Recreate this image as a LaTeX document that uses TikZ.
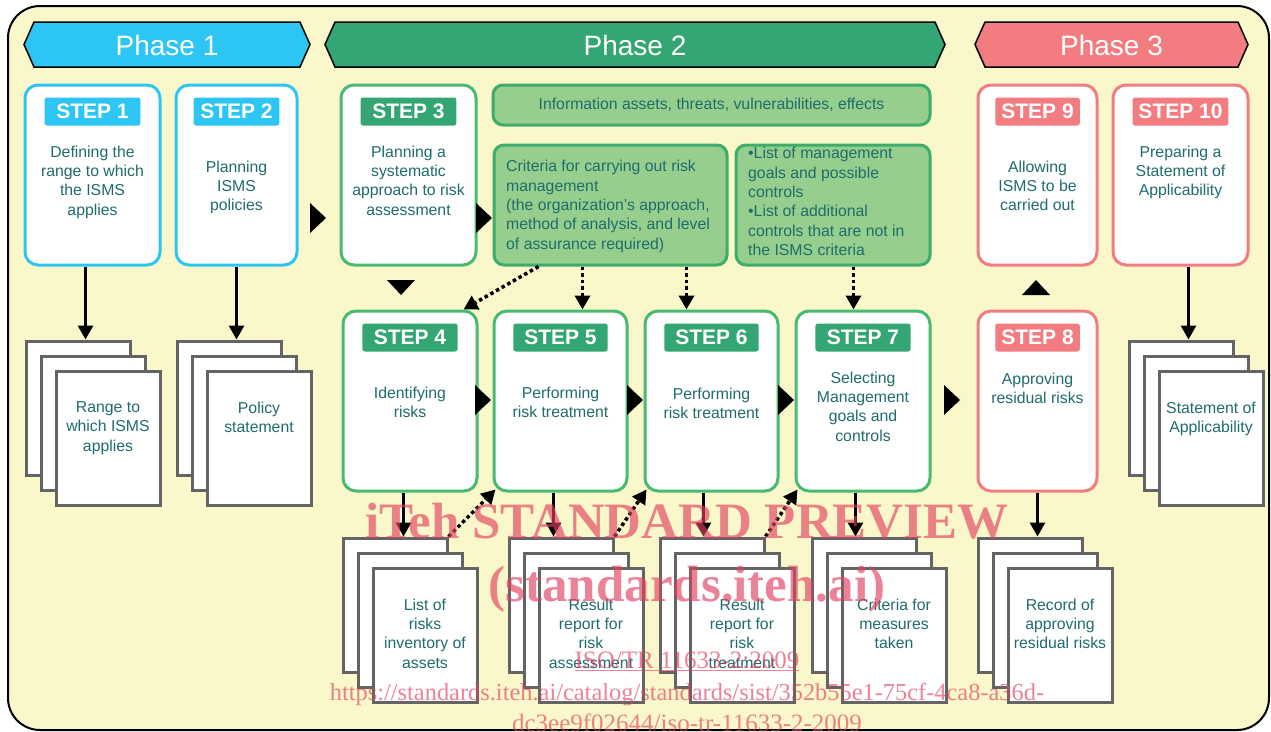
\documentclass[tikz,border=0pt]{standalone}
\usepackage{fontspec}
\setmainfont{Liberation Sans}
\newfontfamily\wmfont{Liberation Serif}
\usetikzlibrary{arrows.meta,calc}

\definecolor{bgyellow}{RGB}{250,248,202}
\definecolor{phcyan}{RGB}{45,197,243}
\definecolor{phgreen}{RGB}{52,166,116}
\definecolor{phpink}{RGB}{242,124,128}
\definecolor{boxline}{RGB}{62,172,106}
\definecolor{boxfill}{RGB}{150,206,141}
\definecolor{tealtext}{RGB}{32,108,108}
\definecolor{docgray}{RGB}{100,100,100}
\definecolor{wmred}{RGB}{226,64,96}
% card borders per phase
\colorlet{phcyan-line}{phcyan}
\definecolor{phgreen-line}{RGB}{72,186,114}
\colorlet{phpink-line}{phpink}

\tikzset{
  x=1pt, y=-1pt,
  card/.style={draw=#1-line, line width=3pt, fill=white, rounded corners=13pt,
    anchor=north west, minimum height=180pt, inner sep=0pt},
  tag/.style={fill=#1, text=white, rounded corners=2.5pt, minimum height=28pt,
    inner sep=0pt, font=\bfseries\fontsize{21}{21}\selectfont},
  cardtxt/.style={text=tealtext, align=center, anchor=north, inner sep=0pt,
    font=\fontsize{15.8}{19.3}\selectfont},
  greenbox/.style={draw=boxline, line width=3pt, fill=boxfill, rounded corners=10pt,
    anchor=north west, inner sep=0pt},
  sheet/.style={draw=docgray, line width=3pt, fill=white, anchor=north west,
    minimum width=104pt, minimum height=134pt, inner sep=0pt},
  phasetxt/.style={text=white, font=\fontsize{28}{28}\selectfont},
  flow/.style={line width=3pt, -{Triangle[length=14pt,width=15pt]}},
  dotflow/.style={line width=3.5pt, dash pattern=on 3.5pt off 3pt,
    -{Triangle[length=14pt,width=15pt]}},
  wmark/.style={text=wmred, text opacity=0.65, inner sep=0pt, anchor=base}
}

% banner: name, colour, left tip : right tip, label
\def\phasebar#1[#2](#3:#4)#5{%
  \draw[line width=1.5pt, fill=#2] (#3,44.5) -- (#3+10,22) -- (#4-10,22) -- (#4,44.5)
    -- (#4-10,67) -- (#3+10,67) -- cycle;
  \node[phasetxt] (#1) at ({(#3+#4)/2},45) {#5};}
% step card: name, colour, outer corner, width, label, text drop, text
\def\stepcard#1[#2](#3,#4)#5#6#7#8{%
  \node[card=#2, minimum width=#5pt] (#1) at (#3+1.5,#4+1.5) {};
  \node[tag=#2, minimum width={0.71*#5pt}] (#1-tag) at ([yshift=-28pt]#1.north) {#6};
  \node[cardtxt] (#1-txt) at ([yshift=-#7pt]#1.north) {#8};}
% stack of three sheets
\def\docstack#1(#2,#3)#4{%
  \node[sheet] (#1-1) at (#2+1.5,#3+1.5) {};
  \node[sheet] (#1-2) at (#2+16.5,#3+16.5) {};
  \node[sheet] (#1-3) at (#2+31.5,#3+31.5) {};
  \node[cardtxt] (#1-txt) at ([yshift=-32pt]#1-3.north) {#4};}
\def\rtri(#1,#2){\fill (#1,#2-15) -- (#1+16,#2) -- (#1,#2+15) -- cycle;}
\def\vtri[#1](#2,#3){\fill (#2-14,#3) -- (#2+14,#3) -- (#2,#3+#1) -- cycle;}

\begin{document}
\begin{tikzpicture}
		%%%%% START %%%%%
		\useasboundingbox (0,0) rectangle (1271,731);
		\draw[line width=2pt, fill=bgyellow, rounded corners=32pt] (8,6) rectangle (1269,730);
		
		\phasebar{ph1}[phcyan](24:310){Phase 1}
		\phasebar{ph2}[phgreen](325:945){Phase 2}
		\phasebar{ph3}[phpink](975:1248){Phase 3}
		
		\stepcard{s1}[phcyan](22,82){135}{STEP 1}{62}{Defining the\\range to which\\the ISMS\\applies}
		\stepcard{s2}[phcyan](173,82){121}{STEP 2}{77}{Planning\\ISMS\\policies}
		\stepcard{s3}[phgreen](338,82){135}{STEP 3}{62}{Planning a\\systematic\\approach to risk\\assessment}
		\stepcard{s9}[phpink](975,82){119}{STEP 9}{77}{Allowing\\ISMS to be\\carried out}
		\stepcard{s10}[phpink](1110,82){135}{STEP 10}{62}{Preparing a\\Statement of\\Applicability}
		
		\stepcard{s4}[phgreen](340,308){134}{STEP 4}{77}{Identifying\\risks}
		\stepcard{s5}[phgreen](491,308){133}{STEP 5}{77}{Performing\\risk treatment}
		\stepcard{s6}[phgreen](642,308){133}{STEP 6}{78}{Performing\\risk treatment}
		\stepcard{s7}[phgreen](793,308){134}{STEP 7}{62}{Selecting\\Management\\goals and\\controls}
		\stepcard{s8}[phpink](975,308){119}{STEP 8}{63}{Approving\\residual risks}
		
		\node[greenbox, minimum width=437pt, minimum height=40pt] (info) at (491.5,83.5) {};
		\node[cardtxt, anchor=center] (info-txt) at (info.center) {Information assets, threats, vulnerabilities, effects};
		\node[greenbox, minimum width=233pt, minimum height=120pt] (crit) at (492.5,143.5) {};
		\node[cardtxt, align=left, anchor=west] (crit-txt) at (506,206.5) {Criteria for carrying out risk\\management\\(the organization’s approach,\\method of analysis, and level\\of assurance required)};
		\node[greenbox, minimum width=194pt, minimum height=120pt] (list) at (734.5,143.5) {};
		\node[cardtxt, align=left, anchor=west] (list-txt) at (748,201.5) {•List of management\\goals and possible\\controls\\•List of additional\\controls that are not in\\the ISMS criteria};
		
		\docstack{d1}(23,338){Range to\\which ISMS\\applies}
		\docstack{d2}(174,338){Policy\\statement}
		\docstack{d10}(1126,338){Statement of\\Applicability}
		\docstack{d4}(340,535){List of\\risks\\inventory of\\assets}
		\docstack{d5}(506,535){Result\\report for\\risk\\assessment}
		\docstack{d6}(657,535){Result\\report for\\risk\\treatment}
		\docstack{d7}(809,535){Criteria for\\measures\\taken}
		\docstack{d8}(975,535){Record of\\approving\\residual risks}
		
		\rtri(310,218)
		\rtri(476,218)
		\rtri(475,400)
		\rtri(627,400)
		\rtri(778,400)
		\rtri(944,400)
		\vtri[15](401,280)
		\vtri[-15](1036,295)
		
		\draw[flow] ([xshift=-7pt]s1.south) -- ([xshift=-7pt]s1.south |- d1-1.north);
		\draw[flow] (s2.south) -- (s2.south |- d2-1.north);
		\draw[flow] ([xshift=8pt]s10.south) -- ([xshift=8pt]s10.south |- d10-1.north);
		\draw[flow] ([xshift=-6.5pt]s4.south) -- ([xshift=-6.5pt]s4.south |- d4-1.north);
		\draw[flow] ([xshift=-7pt]s5.south) -- ([xshift=-7pt]s5.south |- d5-1.north);
		\draw[flow] ([xshift=-8pt]s6.south) -- ([xshift=-8pt]s6.south |- d6-1.north);
		\draw[flow] ([xshift=-7.5pt]s7.south) -- ([xshift=-7.5pt]s7.south |- d7-1.north);
		\draw[flow] (s8.south) -- (s8.south |- d8-1.north);
		
		\draw[dotflow] ([xshift=46pt]crit.south west) -- ([xshift=-15pt]s4.north east);
		\draw[dotflow] ([xshift=90pt]crit.south west) -- ([xshift=90pt]crit.south west |- s5.north);
		\draw[dotflow] ([xshift=194pt]crit.south west) -- ([xshift=194pt]crit.south west |- s6.north);
		\draw[dotflow] ([xshift=119pt]list.south west) -- ([xshift=119pt]list.south west |- s7.north);
		\draw[dotflow] (d4-1.north east) -- ([shift={(3pt,3pt)}]s5.south west);
		\draw[dotflow] (d5-1.north east) -- ([shift={(3pt,3pt)}]s6.south west);
		\draw[dotflow] (d6-1.north east) -- ([shift={(3pt,3pt)}]s7.south west);
		
		\node[wmark, font=\wmfont\bfseries\fontsize{51}{51}\selectfont] (wm1) at (687,538) {iTeh STANDARD PREVIEW};
		\node[wmark, font=\wmfont\bfseries\fontsize{51}{51}\selectfont] (wm2) at (687,601) {(standards.iteh.ai)};
		\node[wmark, font=\wmfont\fontsize{25}{25}\selectfont] (wm3) at (687,668) {\underline{ISO/TR 11633-2:2009}};
		\node[wmark, font=\wmfont\fontsize{24.4}{25}\selectfont] (wm4) at (687,700) {https://standards.iteh.ai/catalog/standards/sist/352b55e1-75cf-4ca8-a36d-};
		\node[wmark, font=\wmfont\fontsize{25}{25}\selectfont] (wm5) at (687,731) {dc3ee9f02644/iso-tr-11633-2-2009};
		
		%%%%% END %%%%%
\end{tikzpicture}
\end{document}
